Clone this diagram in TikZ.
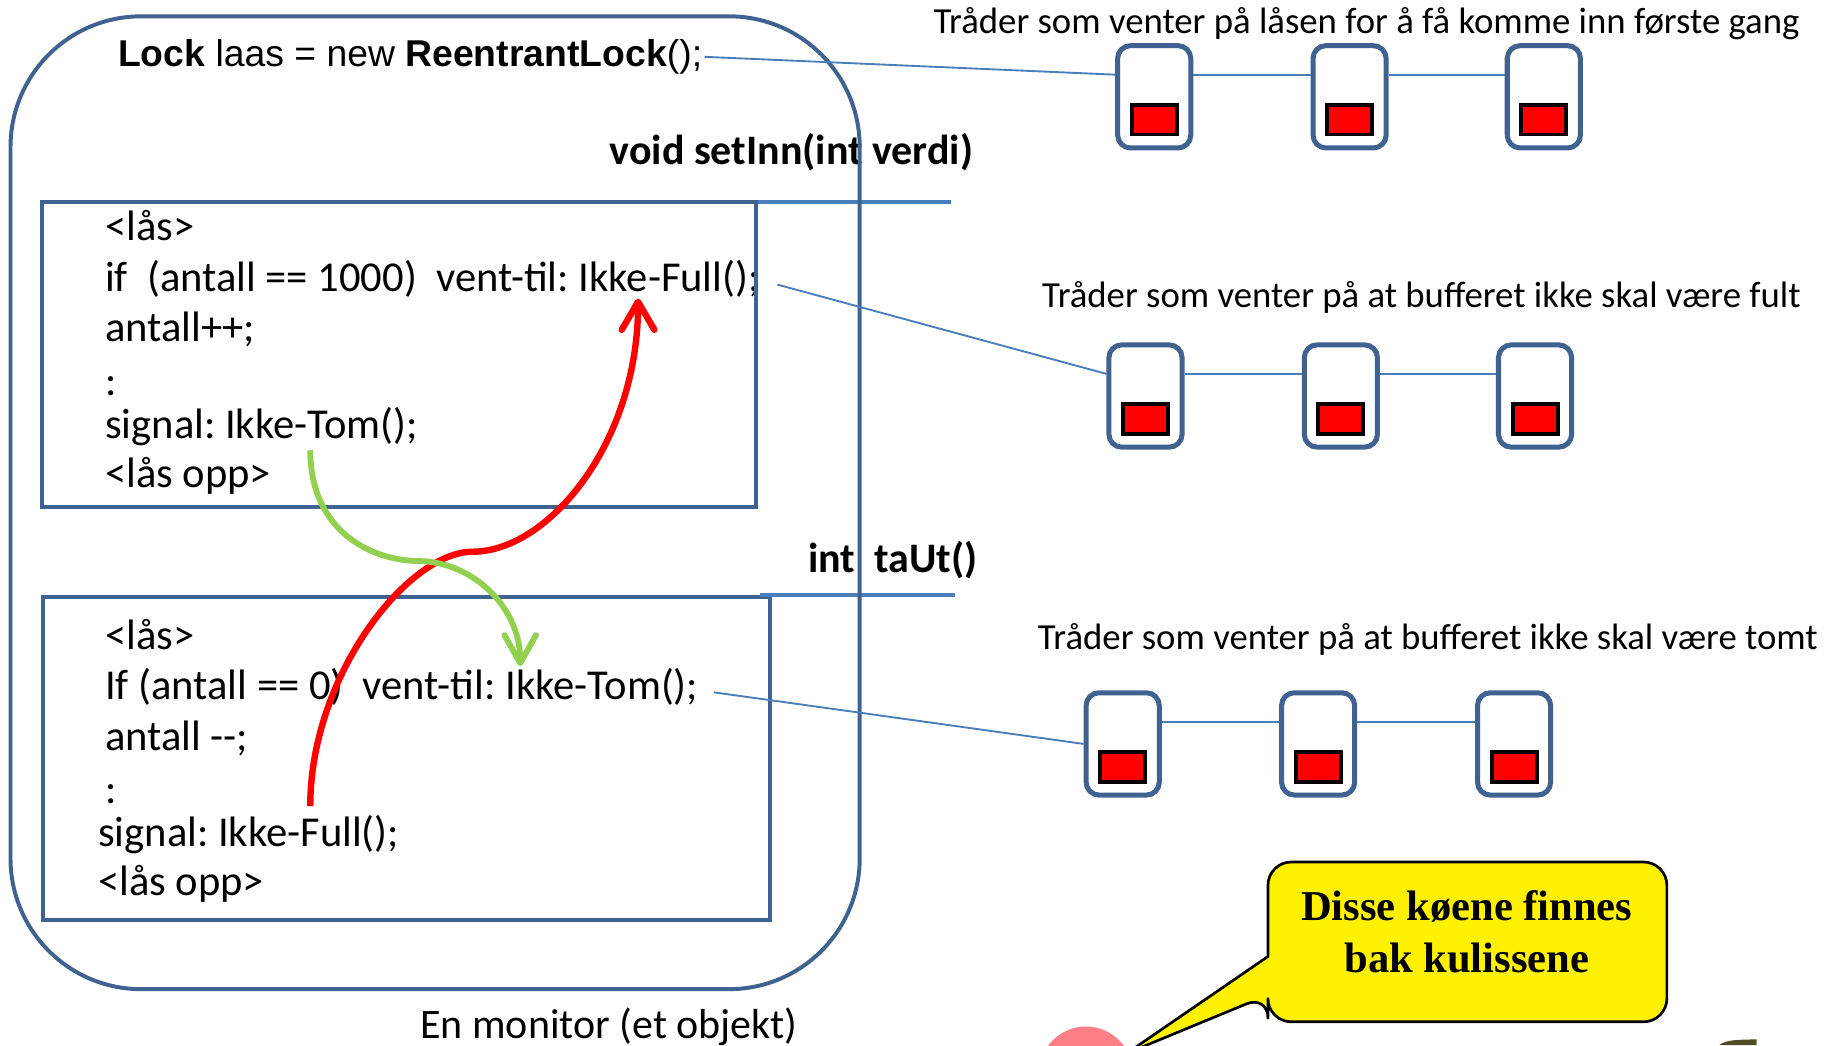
\documentclass[tikz,border=0pt]{standalone}
\usepackage{fontspec}
\setmainfont{Carlito}
\newfontfamily\lockfont{Liberation Sans}
\newfontfamily\calloutfont{Liberation Serif}
\usetikzlibrary{arrows.meta,calc}
\definecolor{mblue}{RGB}{64,98,145}
\definecolor{lblue}{RGB}{74,126,187}
\definecolor{arrgreen}{RGB}{146,208,80}
\definecolor{pinkc}{RGB}{255,127,134}
\definecolor{olivec}{RGB}{80,76,40}
\frenchspacing
\begin{document}
\begin{tikzpicture}[x=1pt,y=-1pt,
  code/.style={anchor=base west,inner sep=0pt,font=\fontsize{36.5}{44}\selectfont},
  lbl/.style={anchor=base,inner sep=0pt,font=\fontsize{31.5}{38}\selectfont},
  hdr/.style={anchor=base,inner sep=0pt,font=\fontsize{36}{43}\selectfont\bfseries},
  codebox/.style={draw=mblue,line width=3.4pt,inner sep=0pt},
  monitorbox/.style={draw=mblue,line width=3.4pt,rounded corners=112pt,inner sep=0pt},
  ext/.style={draw=lblue,line width=3.6pt},
  thread/.style={draw=mblue,line width=4.3pt,fill=white,rounded corners=11pt,minimum width=62.7pt,minimum height=87.7pt,inner sep=0pt},
  redsq/.style={draw=black,line width=3.4pt,fill=red,minimum width=38.6pt,minimum height=25.6pt,inner sep=0pt},
  conn/.style={draw=lblue,line width=1.6pt},
  redarrow/.style={draw=red,line width=5.5pt,-{Straight Barb[length=24pt,width=28pt,round]}},
  greenarrow/.style={draw=arrgreen,line width=5pt,-{Straight Barb[length=24pt,width=27pt,round]}},
  callout/.style={fill=yellow,draw=black,line width=2.3pt,line join=round},
]
\clip (0,0) rectangle (1568,896);

% decorations at the bottom edge
\fill[pinkc] (931,920) circle (40pt);
\fill[olivec] (1474,896) .. controls (1480,891) and (1490,891.5) .. (1506,891) -- (1506,896) -- cycle;

% top line of the monitor
\node[anchor=base west,inner sep=0pt,font=\lockfont\fontsize{32}{38}\selectfont] (lock) at (101,57)
  {\textbf{Lock} laas = new \textbf{ReentrantLock}();};

% method headers
\node[hdr] (hset) at (678.5,141) {void setInn(int verdi)};
\node[hdr] (htaut) at (765.5,491) {int~~taUt()};

% code in setInn
\node[code] (a1) at (90,206) {<lås>};
\node[code] (a2) at (90,250) {if~~(antall == 1000)~~vent-til: Ikke-Full();};
\node[code] (a3) at (90,293) {antall++;};
\node[code] (a4) at (90,339) {:};
\node[code] (a5) at (90,376) {signal: Ikke-Tom();};
\node[code] (a6) at (90,418) {<lås opp>};

% code in taUt
\node[code] (b1) at (90,557) {<lås>};
\node[code] (b2) at (90,599.5) {If (antall == 0)~~vent-til: Ikke-Tom();};
\node[code] (b3) at (90,643.5) {antall -{}-;};
\node[code] (b4) at (90,688.5) {:};
\node[code] (b5) at (84,725.5) {signal: Ikke-Full();};
\node[code] (b6) at (84,768) {<lås opp>};

% monitor caption
\node[anchor=base,inner sep=0pt,font=\fontsize{36}{43}\selectfont] (mcap) at (522,890) {En monitor (et objekt)};

% boxes
\node[codebox,minimum width=612pt,minimum height=262pt] (setinn) at (342,304) {};
\node[codebox,minimum width=623pt,minimum height=277pt] (taut) at (348.5,650.5) {};
\draw[ext] ([yshift=-2pt]setinn.north east) -- ++(166,0);
\draw[ext] ([xshift=-10pt]taut.north east) -- ++(167,0);
\node[monitorbox,minimum width=728pt,minimum height=834pt] (monitor) at (373,431) {};

% queue labels
\node[lbl] (l1) at (1171.5,29) {Tråder som venter på låsen for å få komme inn første gang};
\node[lbl] (l2) at (1218.5,264) {Tråder som venter på at bufferet ikke skal være fult};
\node[lbl] (l3) at (1224,557) {Tråder som venter på at bufferet ikke skal være tomt};

% thread queues
\foreach \r/\y/\xa/\xb/\xc in {1/83/989.5/1157/1323.5, 2/339.5/982/1149.5/1316, 3/637.75/962.5/1130/1298}{
  \node[thread] (t\r1) at (\xa,\y) {};
  \node[thread] (t\r2) at (\xb,\y) {};
  \node[thread] (t\r3) at (\xc,\y) {};
  \node[redsq] (r\r1) at ($(t\r1)+(0,19.5)$) {};
  \node[redsq] (r\r2) at ($(t\r2)+(0,19.5)$) {};
  \node[redsq] (r\r3) at ($(t\r3)+(0,19.5)$) {};
  \draw[conn] ([yshift=19pt]t\r1.east) -- ([yshift=19pt]t\r2.west);
  \draw[conn] ([yshift=19pt]t\r2.east) -- ([yshift=19pt]t\r3.west);
}

% links from the code to the queues
\draw[conn] ([xshift=2pt]lock.east) -- ([yshift=19pt]t11.west);
\draw[conn] ($(a2.base east)+(15,-6)$) -- ([yshift=19pt]t21.west);
\draw[conn] ($(b2.base east)+(13,-6)$) -- (t31.west);

% arrows
\coordinate (rs) at (266,691);
\coordinate (re) at (547,256);
\coordinate (gs) at (266,386);
\coordinate (ge) at (446,571);
\draw[redarrow] (rs) .. controls (266,579) and (350,473) .. (405,473)
  .. controls (470,473) and (547,380) .. (re);
\draw[greenarrow] (gs) .. controls (266,455) and (318,481) .. (360,481)
  .. controls (405,482) and (446,520) .. (ge);

% callout
\path[callout] (1087,790) [rounded corners=20pt] -- (1087,739) -- (1429,739) -- (1429,876)
  -- (1087,876) -- (1087,853) [sharp corners] -- (966,903) -- (1087,820) -- cycle;
\node[align=center,inner sep=0pt,anchor=base,font=\calloutfont\bfseries\fontsize{36.5}{45}\selectfont] (callouttext) at (1257.5,834)
  {Disse køene finnes\\bak kulissene};
\end{tikzpicture}
\end{document}
